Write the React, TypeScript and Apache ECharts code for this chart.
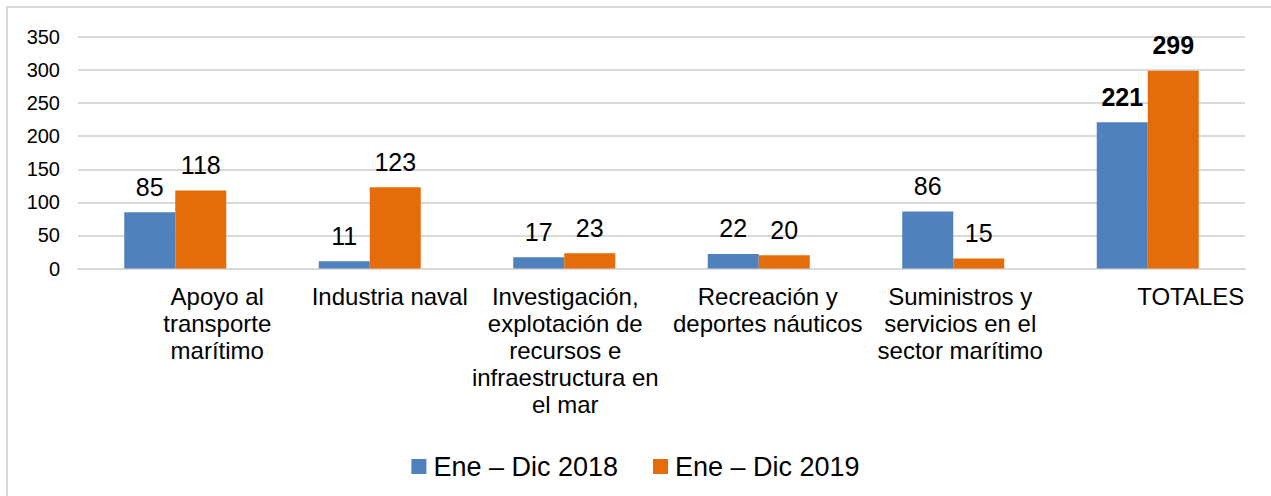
import React, { useEffect, useRef } from "react";
import * as echarts from "echarts";

const categories = [
  "Apoyo al transporte marítimo",
  "Industria naval",
  "Investigación, explotación de recursos e infraestructura en el mar",
  "Recreación y deportes náuticos",
  "Suministros y servicios en el sector marítimo",
  "TOTALES",
];
const wrappedLabels = [
  ["Apoyo al", "transporte", "marítimo"],
  ["Industria naval"],
  ["Investigación,", "explotación de", "recursos e", "infraestructura en", "el mar"],
  ["Recreación y", "deportes náuticos"],
  ["Suministros y", "servicios en el", "sector marítimo"],
  ["TOTALES"],
];
const labelShift = [42, 20, 1, 9, 7, 43];
const series2018 = [85, 11, 17, 22, 86, 221];
const series2019 = [118, 123, 23, 20, 15, 299];
const seriesNames = ["Ene – Dic 2018", "Ene – Dic 2019"];
const yTicks = { min: 0, max: 350, interval: 50 };

const FONT = "Liberation Sans, Arial, sans-serif";

export default function App() {
  const ref = useRef<HTMLDivElement>(null);
  useEffect(() => {
    if (!ref.current) return;
    const chart = echarts.init(ref.current, null, { renderer: "svg" });
    const rich: Record<string, any> = {};
    labelShift.forEach((s, i) => {
      rich["c" + i] = {
        fontSize: 24,
        lineHeight: 27,
        color: "#000",
        fontFamily: FONT,
        padding: s >= 0 ? [0, 0, 0, 2 * s] : [0, -2 * s, 0, 0],
      };
    });
    const lastIdx = categories.length - 1;
    const mk = (arr: number[]) =>
      arr.map((v, i) => (i === lastIdx ? { value: v, label: { fontWeight: "bold" } } : v));
    const barLabel = {
      show: true,
      position: "top",
      distance: 13,
      fontSize: 25,
      color: "#000",
      fontFamily: FONT,
    };
    chart.setOption({
      animation: false,
      textStyle: { fontFamily: FONT },
      graphic: [
        {
          type: "rect",
          shape: { x: 7, y: 7, width: 1320, height: 560 },
          style: { fill: "none", stroke: "#d9d9d9", lineWidth: 2 },
          silent: true,
          z: -10,
        },
      ],
      grid: { left: 78, right: 26, top: 37, bottom: 227.5, containLabel: false },
      legend: {
        data: seriesNames,
        top: 448,
        left: "center",
        itemWidth: 15,
        itemHeight: 15,
        itemGap: 35,
        icon: "rect",
        textStyle: { fontSize: 27, color: "#000", fontFamily: FONT, padding: [0, 0, 0, 2] },
      },
      xAxis: {
        type: "category",
        data: categories,
        axisTick: { show: false },
        axisLine: { lineStyle: { color: "#d9d9d9", width: 2 } },
        axisLabel: {
          interval: 0,
          margin: 14,
          formatter: (_v: string, idx: number) =>
            wrappedLabels[idx].map((l) => `{c${idx}|${l}}`).join("\n"),
          rich,
        },
      },
      yAxis: {
        type: "value",
        min: yTicks.min,
        max: yTicks.max,
        interval: yTicks.interval,
        axisLine: { show: false },
        axisTick: { show: false },
        axisLabel: { fontSize: 20, color: "#000", margin: 18, fontFamily: FONT },
        splitLine: { lineStyle: { color: "#d9d9d9", width: 2 } },
      },
      series: [
        {
          name: seriesNames[0],
          type: "bar",
          data: mk(series2018),
          barWidth: 51,
          barGap: "0%",
          itemStyle: { color: "#4F81BD" },
          label: barLabel,
        },
        {
          name: seriesNames[1],
          type: "bar",
          data: mk(series2019),
          barWidth: 51,
          barGap: "0%",
          itemStyle: { color: "#E46C0A" },
          label: barLabel,
        },
      ],
    });
    return () => chart.dispose();
  }, []);
  return (
    <div
      ref={ref}
      style={{ position: "fixed", left: 0, top: 0, width: 1271, height: 496, background: "#fff" }}
    />
  );
}
